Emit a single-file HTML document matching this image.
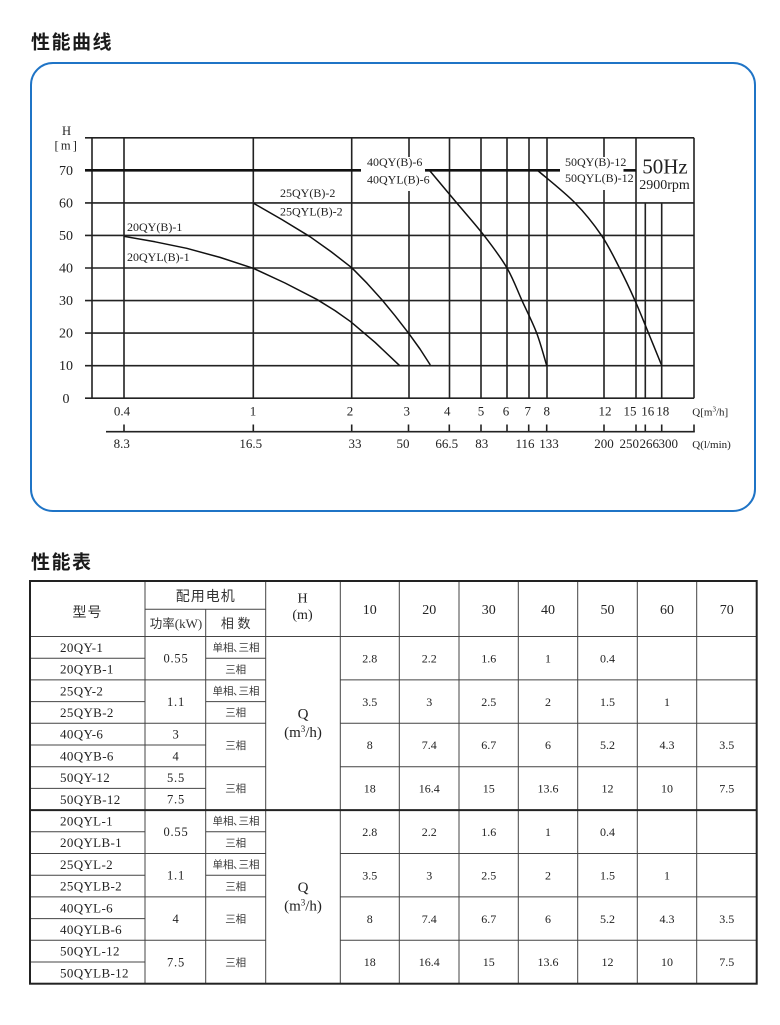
<!DOCTYPE html>
<html>
<head>
<meta charset="utf-8">
<style>
html,body{margin:0;padding:0;background:#fff;}
body{width:780px;height:1025px;overflow:hidden;position:relative;}
svg{position:absolute;left:0;top:0;}
.t{font-family:"Liberation Serif","Noto Sans CJK SC",serif;fill:#222;}
.c{font-family:"Liberation Sans","Noto Sans CJK SC",sans-serif;fill:#333;}
.h{font-family:"Liberation Sans","Noto Sans CJK SC",sans-serif;font-weight:700;fill:#1a1a1a;}
</style>
</head>
<body>
<svg width="780" height="1025" viewBox="0 0 780 1025" xmlns="http://www.w3.org/2000/svg">
<!-- Titles -->
<text class="h" x="31" y="48.7" font-size="19" letter-spacing="1.5">性能曲线</text>
<text class="h" x="31" y="568.7" font-size="19" letter-spacing="1.5">性能表</text>

<!-- Blue rounded box -->
<rect x="31" y="63" width="724" height="448" rx="22" ry="22" fill="none" stroke="#1f74c6" stroke-width="2"/>

<!-- Chart grid -->
<g stroke="#222" stroke-width="1.6" fill="none">
  <line x1="85" y1="137.8" x2="694" y2="137.8"/>
  <line x1="85" y1="202.9" x2="694" y2="202.9"/>
  <line x1="85" y1="235.45" x2="694" y2="235.45"/>
  <line x1="85" y1="268" x2="694" y2="268"/>
  <line x1="85" y1="300.55" x2="694" y2="300.55"/>
  <line x1="85" y1="333.1" x2="694" y2="333.1"/>
  <line x1="85" y1="365.65" x2="694" y2="365.65"/>
  <line x1="85" y1="398.2" x2="694" y2="398.2"/>
  <line x1="92" y1="137.8" x2="92" y2="398.2"/>
  <line x1="124" y1="137.8" x2="124" y2="398.2"/>
  <line x1="253.3" y1="137.8" x2="253.3" y2="398.2"/>
  <line x1="351.7" y1="137.8" x2="351.7" y2="398.2"/>
  <line x1="409" y1="137.8" x2="409" y2="157"/>
  <line x1="409" y1="191" x2="409" y2="398.2"/>
  <line x1="449.5" y1="137.8" x2="449.5" y2="398.2"/>
  <line x1="481" y1="137.8" x2="481" y2="398.2"/>
  <line x1="507" y1="137.8" x2="507" y2="398.2"/>
  <line x1="529" y1="137.8" x2="529" y2="398.2"/>
  <line x1="547" y1="137.8" x2="547" y2="398.2"/>
  <line x1="604" y1="137.8" x2="604" y2="157"/>
  <line x1="604" y1="190" x2="604" y2="398.2"/>
  <line x1="636" y1="137.8" x2="636" y2="398.2"/>
  <line x1="645.3" y1="202.9" x2="645.3" y2="398.2"/>
  <line x1="661.7" y1="202.9" x2="661.7" y2="398.2"/>
  <line x1="694" y1="137.8" x2="694" y2="398.2"/>
</g>
<g stroke="#111" stroke-width="2.6">
  <line x1="85" y1="170.35" x2="361" y2="170.35"/>
  <line x1="425" y1="170.35" x2="560" y2="170.35"/>
  <line x1="623.5" y1="170.35" x2="636" y2="170.35"/>
</g>

<!-- Curves -->
<g stroke="#111" stroke-width="1.5" fill="none" stroke-linejoin="round" stroke-linecap="round">
  <polyline points="125,236.5 155,241.8 186.7,248.3 220,257.4 253.3,268.3 285,283 316.7,299.3 335,310.6 350.7,321.7 375,342.3 399.3,365.3"/>
  <polyline points="254,203.5 282,219.6 310,236.7 331,251.6 351.7,267.7 367,283.2 381.7,299.5 395,315.7 408.7,333.3 420,349 430,364.5"/>
  <path d="M430,171 C434.45,176.3 447.7,192.2 456.7,202.9 C465.7,213.6 475.6,224.6 484,235.45 C492.4,246.3 500.7,257.2 507,268 C513.3,278.85 517.05,289.7 522,300.55 C526.95,311.4 532.6,322.3 536.7,333.1 C540.8,343.9 545,360.1 546.7,365.5"/>
  <path d="M538.3,171 C544.4,176.3 564.5,192.2 575,202.9 C585.5,213.6 594.1,224.6 601.5,235.45 C608.9,246.3 613.9,257.2 619.5,268 C625.1,278.85 630.2,289.7 635,300.55 C639.8,311.4 644.05,322.3 648.5,333.1 C652.95,343.9 659.5,360.1 661.7,365.5"/>
</g>

<!-- Curve labels -->
<g class="t" font-size="12">
  <text x="127" y="231">20QY(B)-1</text>
  <text x="127" y="261">20QYL(B)-1</text>
  <text x="280" y="197">25QY(B)-2</text>
  <text x="280" y="215.5">25QYL(B)-2</text>
  <text x="367" y="166">40QY(B)-6</text>
  <text x="367" y="183.5">40QYL(B)-6</text>
  <text x="565" y="166">50QY(B)-12</text>
  <text x="565" y="181.8">50QYL(B)-12</text>
</g>
<text class="t" x="665" y="173.5" font-size="21" text-anchor="middle">50Hz</text>
<text class="t" x="664.5" y="189" font-size="14" text-anchor="middle">2900rpm</text>

<!-- Y axis labels -->
<g class="t" font-size="14" text-anchor="middle">
  <text x="66.5" y="135" font-size="12.5">H</text>
  <text x="66" y="175">70</text>
  <text x="66" y="207.5">60</text>
  <text x="66" y="240">50</text>
  <text x="66" y="272.6">40</text>
  <text x="66" y="305.2">30</text>
  <text x="66" y="337.7">20</text>
  <text x="66" y="370.2">10</text>
  <text x="66" y="402.8">0</text>
</g>
<text class="t" x="54.5" y="149.5" font-size="12.5" letter-spacing="2.2">[m]</text>

<!-- X axis row 1 -->
<g class="t" font-size="13" text-anchor="middle">
  <text x="122" y="415.3">0.4</text>
  <text x="253" y="415.3">1</text>
  <text x="350" y="415.3">2</text>
  <text x="406.7" y="415.3">3</text>
  <text x="447.3" y="415.3">4</text>
  <text x="481" y="415.3">5</text>
  <text x="506" y="415.3">6</text>
  <text x="527.7" y="415.3">7</text>
  <text x="546.7" y="415.3">8</text>
  <text x="605" y="415.3">12</text>
  <text x="630" y="415.3">15</text>
  <text x="647.7" y="415.3">16</text>
  <text x="662.7" y="415.3">18</text>
</g>
<text class="t" x="692.3" y="415.3" font-size="11">Q[m<tspan font-size="7" dy="-4">3</tspan><tspan dy="4">/h]</tspan></text>

<!-- Second axis -->
<g stroke="#222" stroke-width="1.6">
  <line x1="106" y1="431.7" x2="694.8" y2="431.7"/>
  <line x1="124" y1="424.5" x2="124" y2="431.7"/>
  <line x1="253.3" y1="424.5" x2="253.3" y2="431.7"/>
  <line x1="351.7" y1="424.5" x2="351.7" y2="431.7"/>
  <line x1="408.5" y1="424.5" x2="408.5" y2="431.7"/>
  <line x1="449.3" y1="424.5" x2="449.3" y2="431.7"/>
  <line x1="481" y1="424.5" x2="481" y2="431.7"/>
  <line x1="507" y1="424.5" x2="507" y2="431.7"/>
  <line x1="528.7" y1="424.5" x2="528.7" y2="431.7"/>
  <line x1="546.7" y1="424.5" x2="546.7" y2="431.7"/>
  <line x1="604" y1="424.5" x2="604" y2="431.7"/>
  <line x1="636" y1="424.5" x2="636" y2="431.7"/>
  <line x1="645.3" y1="424.5" x2="645.3" y2="431.7"/>
  <line x1="661.7" y1="424.5" x2="661.7" y2="431.7"/>
  <line x1="694" y1="424.5" x2="694" y2="431.7"/>
</g>
<g class="t" font-size="13" text-anchor="middle">
  <text x="121.7" y="448">8.3</text>
  <text x="250.7" y="448">16.5</text>
  <text x="355" y="448">33</text>
  <text x="403" y="448">50</text>
  <text x="446.7" y="448">66.5</text>
  <text x="481.7" y="448">83</text>
  <text x="525" y="448">116</text>
  <text x="549" y="448">133</text>
  <text x="604" y="448">200</text>
  <text x="629.3" y="448">250</text>
  <text x="649.3" y="448">266</text>
  <text x="668.3" y="448">300</text>
</g>
<text class="t" x="692.3" y="448" font-size="11">Q(l/min)</text>

<!-- ============ TABLE ============ -->
<g stroke="#444" stroke-width="1" fill="none">
  <line x1="145" y1="581" x2="145" y2="983.7"/>
  <line x1="205.7" y1="609.3" x2="205.7" y2="983.7"/>
  <line x1="265.7" y1="581" x2="265.7" y2="983.7"/>
  <line x1="340.3" y1="581" x2="340.3" y2="983.7"/>
  <line x1="399.3" y1="581" x2="399.3" y2="983.7"/>
  <line x1="459" y1="581" x2="459" y2="983.7"/>
  <line x1="518.3" y1="581" x2="518.3" y2="983.7"/>
  <line x1="577.7" y1="581" x2="577.7" y2="983.7"/>
  <line x1="637.3" y1="581" x2="637.3" y2="983.7"/>
  <line x1="696.7" y1="581" x2="696.7" y2="983.7"/>
  <line x1="145" y1="609.3" x2="265.7" y2="609.3"/>
  <line x1="30" y1="636.5" x2="756.7" y2="636.5"/>
  <line x1="30" y1="658.2" x2="145" y2="658.2"/><line x1="205.7" y1="658.2" x2="265.7" y2="658.2"/>
  <line x1="30" y1="701.6" x2="145" y2="701.6"/><line x1="205.7" y1="701.6" x2="265.7" y2="701.6"/>
  <line x1="30" y1="831.8" x2="145" y2="831.8"/><line x1="205.7" y1="831.8" x2="265.7" y2="831.8"/>
  <line x1="30" y1="875.2" x2="145" y2="875.2"/><line x1="205.7" y1="875.2" x2="265.7" y2="875.2"/>
  <line x1="30" y1="679.9" x2="265.7" y2="679.9"/><line x1="340.3" y1="679.9" x2="756.7" y2="679.9"/>
  <line x1="30" y1="723.3" x2="265.7" y2="723.3"/><line x1="340.3" y1="723.3" x2="756.7" y2="723.3"/>
  <line x1="30" y1="766.7" x2="265.7" y2="766.7"/><line x1="340.3" y1="766.7" x2="756.7" y2="766.7"/>
  <line x1="30" y1="853.5" x2="265.7" y2="853.5"/><line x1="340.3" y1="853.5" x2="756.7" y2="853.5"/>
  <line x1="30" y1="896.9" x2="265.7" y2="896.9"/><line x1="340.3" y1="896.9" x2="756.7" y2="896.9"/>
  <line x1="30" y1="940.3" x2="265.7" y2="940.3"/><line x1="340.3" y1="940.3" x2="756.7" y2="940.3"/>
  <line x1="30" y1="745" x2="205.7" y2="745"/>
  <line x1="30" y1="788.4" x2="205.7" y2="788.4"/>
  <line x1="30" y1="918.6" x2="145" y2="918.6"/>
  <line x1="30" y1="962" x2="145" y2="962"/>
</g>
<line x1="30" y1="810.1" x2="756.7" y2="810.1" stroke="#222" stroke-width="2"/>
<rect x="30" y="581" width="726.7" height="402.7" fill="none" stroke="#222" stroke-width="2"/>

<!-- Header text -->
<text class="c" x="87.5" y="616.8" font-size="14" text-anchor="middle" letter-spacing="1">型号</text>
<text class="c" x="205.8" y="601" font-size="14" text-anchor="middle" letter-spacing="1">配用电机</text>
<text class="c" x="176" y="628" font-size="12.5" text-anchor="middle">功率<tspan class="t" font-size="13" style="fill:#333">(kW)</tspan></text>
<text class="c" x="235.7" y="628" font-size="13" text-anchor="middle">相 数</text>
<text class="t" x="302.5" y="602.5" font-size="14" text-anchor="middle">H</text>
<text class="t" x="302.5" y="618.8" font-size="14" text-anchor="middle">(m)</text>
<g class="t" font-size="14" text-anchor="middle">
  <text x="369.8" y="614">10</text>
  <text x="429.2" y="614">20</text>
  <text x="488.7" y="614">30</text>
  <text x="548" y="614">40</text>
  <text x="607.5" y="614">50</text>
  <text x="667" y="614">60</text>
  <text x="726.7" y="614">70</text>
</g>

<!-- Model names -->
<g class="t" font-size="13" letter-spacing="0.35">
  <text x="60" y="651.9">20QY-1</text>
  <text x="60" y="673.6">20QYB-1</text>
  <text x="60" y="695.3">25QY-2</text>
  <text x="60" y="717">25QYB-2</text>
  <text x="60" y="738.7">40QY-6</text>
  <text x="60" y="760.4">40QYB-6</text>
  <text x="60" y="782.1">50QY-12</text>
  <text x="60" y="803.8">50QYB-12</text>
  <text x="60" y="825.5">20QYL-1</text>
  <text x="60" y="847.2">20QYLB-1</text>
  <text x="60" y="868.9">25QYL-2</text>
  <text x="60" y="890.6">25QYLB-2</text>
  <text x="60" y="912.3">40QYL-6</text>
  <text x="60" y="934">40QYLB-6</text>
  <text x="60" y="955.7">50QYL-12</text>
  <text x="60" y="977.4">50QYLB-12</text>
</g>

<!-- Power -->
<g class="t" font-size="12.5" text-anchor="middle" letter-spacing="0.8">
  <text x="176" y="662.6">0.55</text>
  <text x="176" y="706">1.1</text>
  <text x="176" y="738.6">3</text>
  <text x="176" y="760.3">4</text>
  <text x="176" y="782">5.5</text>
  <text x="176" y="803.7">7.5</text>
  <text x="176" y="836.2">0.55</text>
  <text x="176" y="879.6">1.1</text>
  <text x="176" y="923">4</text>
  <text x="176" y="966.4">7.5</text>
</g>

<!-- Phase -->
<g class="c" font-size="10.5" style="fill:#3a3a3a">
  <text x="212.5" y="651.1">单相<tspan dx="-0.5">、</tspan><tspan dx="-5">三相</tspan></text>
  <text x="235.7" y="672.8" text-anchor="middle">三相</text>
  <text x="212.5" y="694.5">单相<tspan dx="-0.5">、</tspan><tspan dx="-5">三相</tspan></text>
  <text x="235.7" y="716.2" text-anchor="middle">三相</text>
  <text x="235.7" y="748.8" text-anchor="middle">三相</text>
  <text x="235.7" y="792.2" text-anchor="middle">三相</text>
  <text x="212.5" y="824.7">单相<tspan dx="-0.5">、</tspan><tspan dx="-5">三相</tspan></text>
  <text x="235.7" y="846.4" text-anchor="middle">三相</text>
  <text x="212.5" y="868.1">单相<tspan dx="-0.5">、</tspan><tspan dx="-5">三相</tspan></text>
  <text x="235.7" y="889.8" text-anchor="middle">三相</text>
  <text x="235.7" y="922.4" text-anchor="middle">三相</text>
  <text x="235.7" y="965.8" text-anchor="middle">三相</text>
</g>

<!-- Q (m3/h) -->
<g class="t" font-size="15" text-anchor="middle">
  <text x="303" y="718.5">Q</text>
  <text x="303" y="737">(m<tspan font-size="9" dy="-5">3</tspan><tspan dy="5">/h)</tspan></text>
  <text x="303" y="892">Q</text>
  <text x="303" y="910.5">(m<tspan font-size="9" dy="-5">3</tspan><tspan dy="5">/h)</tspan></text>
</g>

<!-- Data -->
<g class="t" font-size="12" text-anchor="middle">
  <text x="369.8" y="662.4">2.8</text><text x="429.2" y="662.4">2.2</text><text x="488.7" y="662.4">1.6</text><text x="548" y="662.4">1</text><text x="607.5" y="662.4">0.4</text>
  <text x="369.8" y="705.8">3.5</text><text x="429.2" y="705.8">3</text><text x="488.7" y="705.8">2.5</text><text x="548" y="705.8">2</text><text x="607.5" y="705.8">1.5</text><text x="667" y="705.8">1</text>
  <text x="369.8" y="749.2">8</text><text x="429.2" y="749.2">7.4</text><text x="488.7" y="749.2">6.7</text><text x="548" y="749.2">6</text><text x="607.5" y="749.2">5.2</text><text x="667" y="749.2">4.3</text><text x="726.7" y="749.2">3.5</text>
  <text x="369.8" y="792.6">18</text><text x="429.2" y="792.6">16.4</text><text x="488.7" y="792.6">15</text><text x="548" y="792.6">13.6</text><text x="607.5" y="792.6">12</text><text x="667" y="792.6">10</text><text x="726.7" y="792.6">7.5</text>
  <text x="369.8" y="836">2.8</text><text x="429.2" y="836">2.2</text><text x="488.7" y="836">1.6</text><text x="548" y="836">1</text><text x="607.5" y="836">0.4</text>
  <text x="369.8" y="879.4">3.5</text><text x="429.2" y="879.4">3</text><text x="488.7" y="879.4">2.5</text><text x="548" y="879.4">2</text><text x="607.5" y="879.4">1.5</text><text x="667" y="879.4">1</text>
  <text x="369.8" y="922.8">8</text><text x="429.2" y="922.8">7.4</text><text x="488.7" y="922.8">6.7</text><text x="548" y="922.8">6</text><text x="607.5" y="922.8">5.2</text><text x="667" y="922.8">4.3</text><text x="726.7" y="922.8">3.5</text>
  <text x="369.8" y="966.2">18</text><text x="429.2" y="966.2">16.4</text><text x="488.7" y="966.2">15</text><text x="548" y="966.2">13.6</text><text x="607.5" y="966.2">12</text><text x="667" y="966.2">10</text><text x="726.7" y="966.2">7.5</text>
</g>
</svg>
</body>
</html>
